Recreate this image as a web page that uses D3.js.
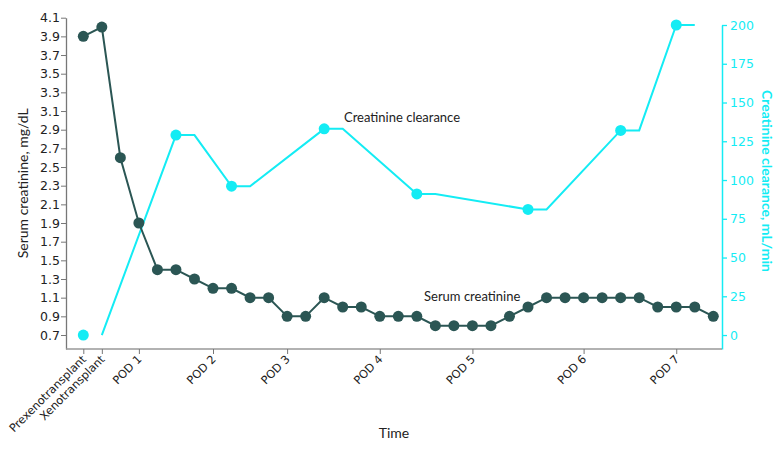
<!DOCTYPE html>
<html>
<head>
<meta charset="utf-8">
<script src="https://cdn.jsdelivr.net/npm/d3@7"></script>
<style>
  html, body { margin: 0; padding: 0; background: #fff; }
  svg { display: block; }
  .tick-lbl { font-family: "DejaVu Sans", Verdana, sans-serif; font-size: 12.5px; fill: #222; }
  .note { font-family: Lato, "Open Sans", sans-serif; font-size: 13px; fill: #222; }
</style>
</head>
<body>
<div id="chart"></div>
<script>
// ── Data ─────────────────────────────────────────────────────────────────────
// one entry per measurement slot (35 slots along the time axis)
const serumCreatinine = [
  3.9, 4.0, 2.6, 1.9, 1.4, 1.4, 1.3, 1.2, 1.2, 1.1, 1.1, 0.9,
  0.9, 1.1, 1.0, 1.0, 0.9, 0.9, 0.9, 0.8, 0.8, 0.8, 0.8, 0.9,
  1.0, 1.1, 1.1, 1.1, 1.1, 1.1, 1.1, 1.0, 1.0, 1.0, 0.9
];

// creatinine clearance measured on a few slots only
const clearanceSlot  = [0, 5, 8, 13, 18, 24, 29, 32];
const clearanceValue = [0, 129, 96, 133, 91, 81, 132, 200];

const timeTickSlot  = [0, 1, 3, 7, 11, 16, 21, 27, 32];
const timeTickLabel = ['Prexenotransplant', 'Xenotransplant', 'POD 1', 'POD 2', 'POD 3',
                       'POD 4', 'POD 5', 'POD 6', 'POD 7'];

const serumTicks     = d3.range(0.7, 4.15, 0.2).map(v => +v.toFixed(1));
const clearanceTicks = [0, 25, 50, 75, 100, 125, 150, 175, 200];

const SERUM = '#2b5654';
const CLEAR = '#14ecf4';

// ── Layout ───────────────────────────────────────────────────────────────────
const W = 780, H = 454;
const plot = { left: 66, right: 722, top: 17.7, bottom: 349 };

const svg = d3.select('#chart').append('svg')
  .attr('width', W).attr('height', H);

const x = d3.scaleLinear()
  .domain([0, serumCreatinine.length - 1])
  .range([83.3, 713.3]);

const yL = d3.scaleLinear().domain([0.55, 4.1]).range([plot.bottom, plot.top]);
const yR = d3.scaleLinear().domain([-9, 200]).range([plot.bottom, 25]);

// ── Axes ─────────────────────────────────────────────────────────────────────
const gLeft = svg.append('g')
  .attr('transform', `translate(${plot.left},0)`)
  .call(d3.axisLeft(yL).tickValues(serumTicks).tickFormat(d3.format('.1f')).tickSize(5).tickSizeOuter(0));
gLeft.select('.domain').attr('stroke', '#777').attr('stroke-width', 1.3);
gLeft.selectAll('.tick line').attr('stroke', '#777');
gLeft.selectAll('.tick text').attr('class', 'tick-lbl').attr('x', -6);

const gRight = svg.append('g')
  .attr('transform', `translate(${plot.right},0)`)
  .call(d3.axisRight(yR).tickValues(clearanceTicks).tickSize(5).tickSizeOuter(0));
gRight.select('.domain').attr('stroke', CLEAR).attr('stroke-width', 1.5);
gRight.selectAll('.tick line').attr('stroke', CLEAR).attr('stroke-width', 1.3);
gRight.selectAll('.tick text').attr('class', 'tick-lbl').style('fill', CLEAR).attr('x', 8);

const gBottom = svg.append('g')
  .attr('transform', `translate(0,${plot.bottom})`)
  .call(d3.axisBottom(x).tickValues(timeTickSlot)
    .tickFormat((d, i) => timeTickLabel[i]).tickSize(5).tickSizeOuter(0));
gBottom.select('.domain').attr('d', `M${plot.left},0H${plot.right}`)
  .attr('stroke', '#999').attr('stroke-width', 1.5);
gBottom.selectAll('.tick line').attr('stroke', '#777');
gBottom.selectAll('.tick text')
  .attr('class', 'tick-lbl')
  .style('font-size', '11.3px')
  .attr('text-anchor', 'end')
  .attr('x', 0).attr('y', 0).attr('dy', 0)
  .attr('transform', 'translate(3,11) rotate(-45)');

// axis titles
svg.append('text').attr('class', 'note')
  .attr('transform', `translate(28,${(plot.top + plot.bottom) / 2}) rotate(-90)`)
  .attr('text-anchor', 'middle')
  .style('font-size', '14px')
  .text('Serum creatinine, mg/dL');

svg.append('text').attr('class', 'note')
  .attr('transform', `translate(762,181) rotate(90)`)
  .attr('text-anchor', 'middle')
  .style('font-size', '14px').style('font-weight', 700).style('fill', CLEAR)
  .text('Creatinine clearance, mL/min');

svg.append('text').attr('class', 'note')
  .attr('x', 394).attr('y', 438)
  .attr('text-anchor', 'middle')
  .style('font-size', '14px')
  .text('Time');

// ── Creatinine clearance ─────────────────────────────────────────────────────
// each value holds for one slot; the line starts after the baseline point
const clearLinePts = clearanceSlot.flatMap((s, i) =>
  i === 0 ? [[s + 1, clearanceValue[i]]]
          : [[s, clearanceValue[i]], [s + 1, clearanceValue[i]]]);

svg.append('path')
  .datum(clearLinePts)
  .attr('fill', 'none')
  .attr('stroke', CLEAR)
  .attr('stroke-width', 2)
  .attr('d', d3.line().x(d => x(d[0])).y(d => yR(d[1])));

svg.append('g').selectAll('circle')
  .data(clearanceSlot)
  .join('circle')
  .attr('cx', d => x(d))
  .attr('cy', (d, i) => yR(clearanceValue[i]))
  .attr('r', 5.5)
  .attr('fill', CLEAR);

// ── Serum creatinine ─────────────────────────────────────────────────────────
svg.append('path')
  .datum(serumCreatinine)
  .attr('fill', 'none')
  .attr('stroke', SERUM)
  .attr('stroke-width', 2)
  .attr('d', d3.line().x((d, i) => x(i)).y(d => yL(d)));

svg.append('g').selectAll('circle')
  .data(serumCreatinine)
  .join('circle')
  .attr('cx', (d, i) => x(i))
  .attr('cy', d => yL(d))
  .attr('r', 5.5)
  .attr('fill', SERUM);

// ── Series labels ────────────────────────────────────────────────────────────
svg.append('text').attr('class', 'note')
  .attr('x', 344).attr('y', 122)
  .text('Creatinine clearance');

svg.append('text').attr('class', 'note')
  .attr('x', 424).attr('y', 300.5)
  .text('Serum creatinine');
</script>
</body>
</html>
